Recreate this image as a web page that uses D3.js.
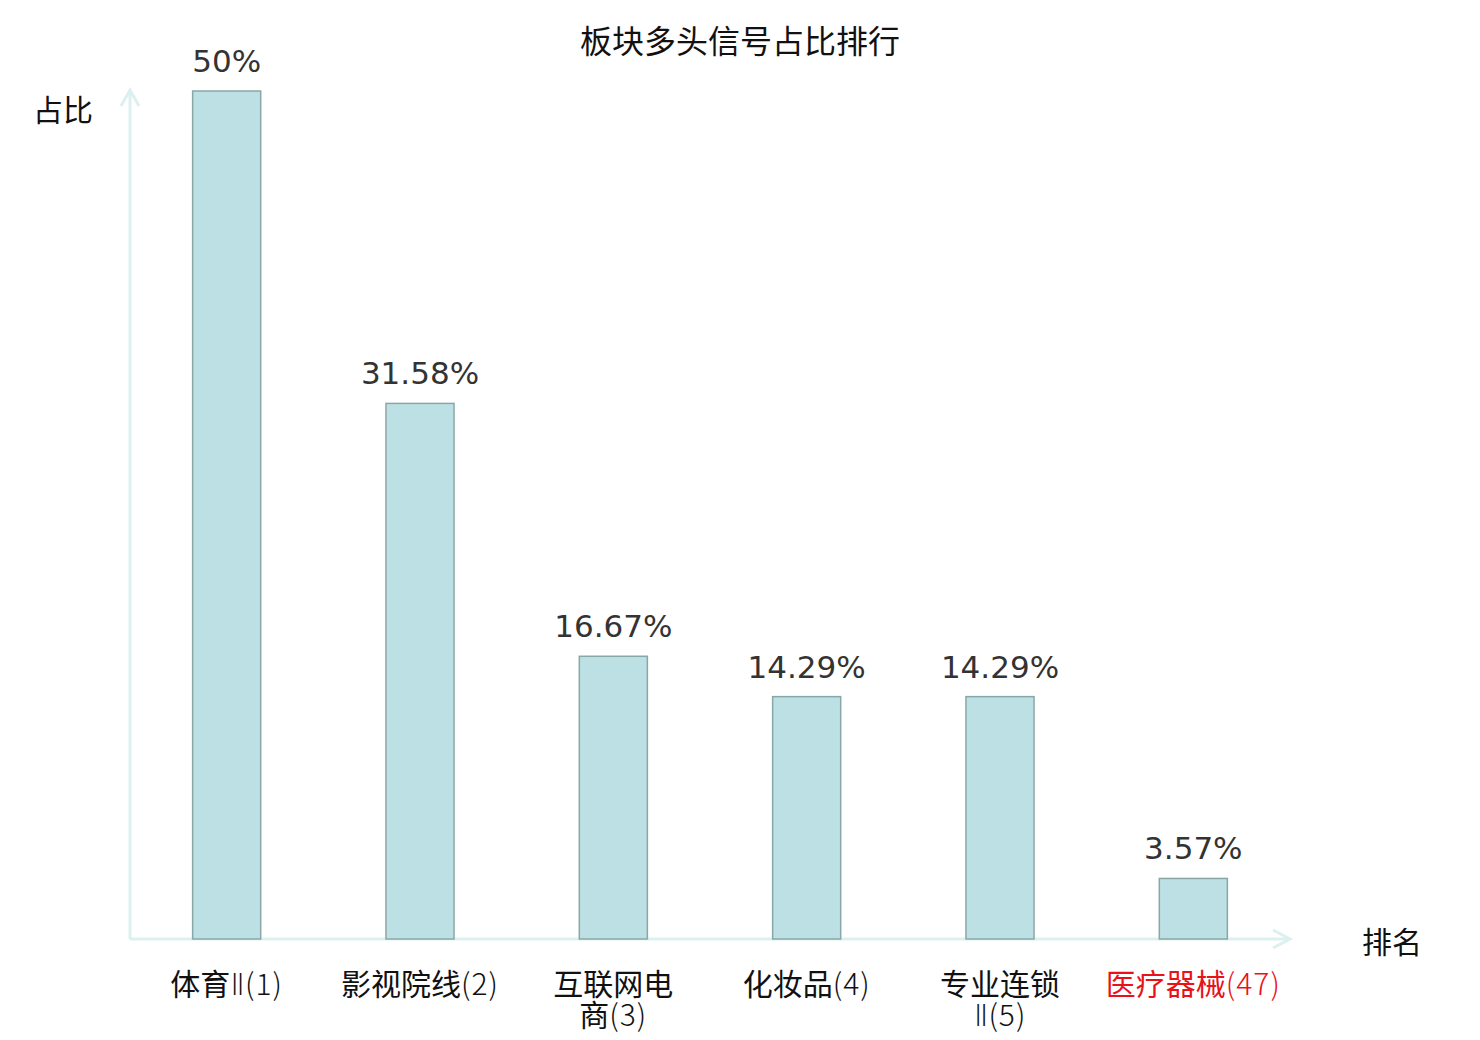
<!DOCTYPE html>
<html><head><meta charset="utf-8">
<script src="https://cdn.jsdelivr.net/npm/d3@7"></script>
<style>
html,body{margin:0;padding:0;background:#fff;}
svg{display:block;}
</style>
</head><body>
<svg id="chart" width="1480" height="1040"></svg>
<script>
const categories = ["体育Ⅱ(1)", "影视院线(2)", "互联网电商(3)", "化妆品(4)", "专业连锁Ⅱ(5)", "医疗器械(47)"];
const categoryLines = [["体育Ⅱ(1)"], ["影视院线(2)"], ["互联网电", "商(3)"], ["化妆品(4)"], ["专业连锁", "Ⅱ(5)"], ["医疗器械(47)"]];
const values = [50, 31.58, 16.67, 14.29, 14.29, 3.57];
const valueLabels = ["50%", "31.58%", "16.67%", "14.29%", "14.29%", "3.57%"];
const highlight = [false, false, false, false, false, true];
const title = "板块多头信号占比排行";
const yName = "占比";
const xName = "排名";

const svg = d3.select("#chart");
const cjk = "'Noto Sans CJK SC', 'Noto Sans', sans-serif";
const latin = "'DejaVu Sans', sans-serif";

const x0 = 130, x1 = 1290, yBase = 939, yTop = 91;
const x = d3.scaleBand().domain(categories).range([x0, x1]).paddingInner(0.648).paddingOuter(0.324);
const y = d3.scaleLinear().domain([0, 50]).range([yBase, yTop]);

const axisColor = "#dcf1ef";
// y axis
svg.append("line").attr("x1", x0).attr("x2", x0).attr("y1", yBase).attr("y2", 90)
  .attr("stroke", axisColor).attr("stroke-width", 3);
svg.append("path").attr("d", `M${x0-9},${106}L${x0},${90}L${x0+9},${106}`)
  .attr("fill", "none").attr("stroke", axisColor).attr("stroke-width", 3);
// x axis
svg.append("line").attr("x1", x0).attr("x2", x1).attr("y1", yBase).attr("y2", yBase)
  .attr("stroke", axisColor).attr("stroke-width", 3);
svg.append("path").attr("d", `M${x1-17},${yBase-9}L${x1},${yBase}L${x1-17},${yBase+9}`)
  .attr("fill", "none").attr("stroke", axisColor).attr("stroke-width", 3);

// bars
svg.append("g").selectAll("rect").data(values).join("rect")
  .attr("x", (d, i) => x(categories[i]))
  .attr("y", d => y(d))
  .attr("width", x.bandwidth())
  .attr("height", d => yBase - y(d))
  .attr("fill", "#bce0e3")
  .attr("stroke", "#8aa7a8")
  .attr("stroke-width", 1.5);

// value labels
svg.append("g").selectAll("text").data(values).join("text")
  .attr("x", (d, i) => x(categories[i]) + x.bandwidth() / 2)
  .attr("y", d => y(d) - 19)
  .attr("text-anchor", "middle")
  .attr("font-family", latin)
  .attr("font-size", 31)
  .attr("fill", "#333")
  .text((d, i) => valueLabels[i]);

// category labels: CJK parts regular, latin parts light
const cg = svg.append("g");
const isCJK = ch => /[\u4e00-\u9fff]/.test(ch);
const isRoman = ch => /[\u2160-\u217f]/.test(ch);
categories.forEach((c, i) => {
  const cx = x(c) + x.bandwidth() / 2;
  categoryLines[i].forEach((ln, j) => {
    const t = cg.append("text")
      .attr("x", cx)
      .attr("y", 995 + j * 31)
      .attr("text-anchor", "middle")
      .attr("font-family", cjk)
      .attr("font-size", 30)
      .attr("fill", highlight[i] ? "#e8121a" : "#111");
    const runs = [];
    for (const ch of ln) {
      const k = isCJK(ch) ? "c" : (isRoman(ch) ? "r" : "l");
      if (runs.length && runs[runs.length - 1].k === k) runs[runs.length - 1].s += ch;
      else runs.push({k, s: ch});
    }
    runs.forEach(r => {
      const ts = t.append("tspan").text(r.s);
      if (r.k === "c") ts.attr("font-weight", 400);
      else if (r.k === "r") ts.attr("font-family", latin).attr("font-weight", 200);
      else ts.attr("font-weight", 300).attr("letter-spacing", 1);
    });
  });
});

// title & axis names
svg.append("text").attr("x", 740).attr("y", 53).attr("text-anchor", "middle")
  .attr("font-family", cjk).attr("font-size", 32).attr("fill", "#111").text(title);
svg.append("text").attr("x", 93).attr("y", 121).attr("text-anchor", "end")
  .attr("font-family", cjk).attr("font-size", 30).attr("fill", "#111").text(yName);
svg.append("text").attr("x", 1362).attr("y", 953).attr("text-anchor", "start")
  .attr("font-family", cjk).attr("font-size", 30).attr("fill", "#111").text(xName);
</script>
</body></html>
